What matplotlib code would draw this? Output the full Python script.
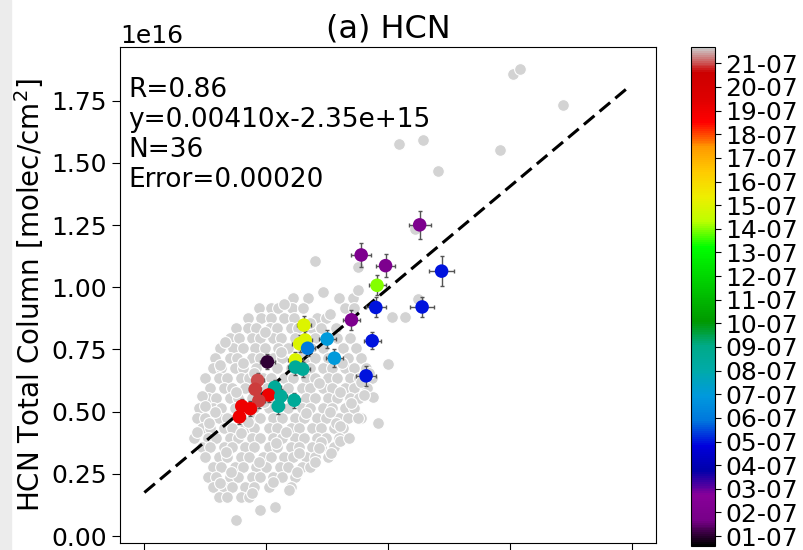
import numpy as np
import matplotlib
matplotlib.use("Agg")
import matplotlib.pyplot as plt
from matplotlib.colors import Normalize
from matplotlib.cm import ScalarMappable
from matplotlib.patches import Rectangle

# colored obs points: x in 1e18, y in 1e16, day of July
pt_x = [3.26, 2.78, 2.98, 3.44, 2.91, 2.90, 3.28, 2.70, 2.31, 2.32, 2.275,
        2.50, 2.34, 2.56, 2.87, 2.82, 2.24, 2.01, 2.24, 2.30, 1.93, 1.91,
        2.07, 2.02, 1.94, 2.12, 2.23, 2.10, 1.80, 1.87, 1.78]
pt_y = [1.251, 1.130, 1.087, 1.065, 1.008, 0.919, 0.921, 0.869, 0.848, 0.788, 0.773,
        0.792, 0.755, 0.715, 0.785, 0.644, 0.708, 0.700, 0.679, 0.671, 0.626, 0.590,
        0.598, 0.567, 0.544, 0.562, 0.546, 0.522, 0.522, 0.512, 0.479]
pt_day = [2, 2, 2, 5, 14, 5, 5, 2, 15, 15, 15,
          7, 6, 7, 5, 5, 15, 1, 8.5, 8.5, 21, 20.9,
          8.5, 19, 20.9, 8.5, 8.5, 8.5, 19, 19, 19]
pt_xerr = [0.09, 0.08, 0.08, 0.10, 0.07, 0.08, 0.10, 0.07, 0.06, 0.06, 0.06,
           0.07, 0.06, 0.07, 0.07, 0.08, 0.06, 0.06, 0.06, 0.06, 0.05, 0.05,
           0.05, 0.05, 0.05, 0.05, 0.05, 0.05, 0.05, 0.05, 0.05]
pt_yerr = [0.055, 0.05, 0.045, 0.06, 0.04, 0.04, 0.04, 0.04, 0.035, 0.035, 0.035,
           0.035, 0.03, 0.035, 0.035, 0.04, 0.03, 0.03, 0.03, 0.03, 0.03, 0.03,
           0.03, 0.03, 0.03, 0.03, 0.03, 0.03, 0.03, 0.03, 0.03]

# gray model points, read row by row (y in 1e16, x in 1e18)
gray_row_y = [0.955, 0.915, 0.878, 0.836, 0.797, 0.757, 0.716, 0.676, 0.636, 0.596,
              0.556, 0.516, 0.476, 0.436, 0.396, 0.356, 0.316, 0.276, 0.236, 0.196, 0.156]
gray_row_x = [
    [2.22, 2.34, 2.60, 2.71],
    [1.94, 2.04, 2.10, 2.21, 2.30, 2.65, 2.72],
    [1.85, 1.96, 2.04, 2.15, 2.23, 2.42, 2.49, 2.70],
    [1.75, 1.85, 1.92, 2.03, 2.09, 2.20, 2.26, 2.38, 2.45, 2.57],
    [1.70, 1.78, 1.88, 1.95, 2.06, 2.12, 2.24, 2.40, 2.58, 2.69],
    [1.62, 1.73, 1.81, 1.91, 1.99, 2.10, 2.18, 2.29, 2.37, 2.47, 2.63, 2.74],
    [1.58, 1.70, 1.76, 1.88, 1.95, 2.06, 2.13, 2.33, 2.40, 2.51, 2.67, 2.78],
    [1.56, 1.63, 1.74, 1.81, 1.92, 2.09, 2.20, 2.36, 2.47, 2.54, 2.65, 2.72, 2.82],
    [1.50, 1.61, 1.68, 1.79, 1.86, 1.97, 2.04, 2.15, 2.22, 2.33, 2.40, 2.51, 2.58, 2.69, 2.76, 2.87],
    [1.54, 1.65, 1.72, 1.83, 2.01, 2.18, 2.29, 2.36, 2.47, 2.54, 2.65, 2.72, 2.83],
    [1.52, 1.59, 1.70, 1.77, 1.88, 2.04, 2.33, 2.40, 2.51, 2.58, 2.69, 2.76],
    [1.45, 1.56, 1.63, 1.74, 1.90, 2.02, 2.18, 2.29, 2.36, 2.47, 2.54, 2.65, 2.72],
    [1.43, 1.50, 1.61, 1.68, 1.88, 1.95, 2.06, 2.13, 2.24, 2.31, 2.42, 2.49, 2.60, 2.67, 2.78],
    [1.47, 1.54, 1.65, 1.72, 1.83, 1.90, 2.02, 2.09, 2.20, 2.27, 2.38, 2.45, 2.56, 2.63],
    [1.41, 1.52, 1.59, 1.70, 1.77, 1.88, 1.95, 2.06, 2.13, 2.24, 2.31, 2.42, 2.49, 2.60],
    [1.47, 1.54, 1.65, 1.72, 1.83, 1.90, 2.02, 2.09, 2.20, 2.27, 2.38, 2.45, 2.56],
    [1.50, 1.61, 1.68, 1.79, 1.86, 1.97, 2.04, 2.15, 2.22, 2.33, 2.40, 2.51],
    [1.56, 1.63, 1.74, 1.81, 1.92, 2.00, 2.11, 2.18, 2.29, 2.36],
    [1.52, 1.59, 1.70, 1.77, 1.88, 1.95, 2.06, 2.13, 2.24],
    [1.56, 1.65, 1.72, 1.83, 1.90, 2.02, 2.20],
    [1.61, 1.68, 1.79, 1.86],
]
# extra gray points sitting between the rows
gray_mid_x = [1.66, 1.99, 2.31, 2.43, 2.61, 1.58, 1.85, 2.16, 2.45, 1.67, 1.94, 2.25,
              1.62, 1.88, 2.52, 2.70, 2.78, 2.36, 2.12, 1.75, 1.98, 2.57, 2.33, 2.08,
              1.79, 1.53, 2.62, 2.84, 2.52, 2.15, 1.81, 2.40, 1.71, 2.06, 2.27, 1.90]
gray_mid_y = [0.780, 0.820, 0.735, 0.615, 0.578, 0.498, 0.458, 0.418, 0.378, 0.338, 0.298, 0.258,
              0.214, 0.174, 0.498, 0.534, 0.618, 0.858, 0.738, 0.578, 0.538, 0.454, 0.494, 0.374,
              0.414, 0.454, 0.696, 0.656, 0.894, 0.934, 0.696, 0.296, 0.258, 0.216, 0.335, 0.656]
# scattered gray points outside the main cloud
gray_out_x = [4.03, 4.08, 4.44, 3.09, 3.29, 3.41, 3.92, 2.40, 2.47, 2.75, 2.75, 3.22,
              3.25, 3.03, 3.14, 3.00, 2.92, 2.88, 1.43, 1.47, 1.50, 1.62, 1.75, 1.95,
              2.07, 2.19, 2.53, 2.43, 2.61, 2.68, 2.75, 2.61, 2.80]
gray_out_y = [1.856, 1.878, 1.733, 1.576, 1.593, 1.468, 1.550, 1.107, 0.981, 0.988, 1.081, 1.234,
              0.954, 0.881, 0.881, 0.691, 0.455, 0.559, 0.419, 0.562, 0.522, 0.688, 0.063, 0.103,
              0.116, 0.186, 0.335, 0.355, 0.382, 0.395, 0.475, 0.442, 0.568]

slope = 0.00410
intercept = -2.35e15
fit_x = [1.0e18, 4.97e18]
day_ticks = list(range(1, 22))
day_labels = ["%02d-07" % d for d in day_ticks]

gx, gy = [], []
for yv, xs in zip(gray_row_y, gray_row_x):
    gx += xs
    gy += [yv] * len(xs)
gx = np.array(gx + gray_mid_x + gray_out_x) * 1e18
gy = np.array(gy + gray_mid_y + gray_out_y) * 1e16

fig = plt.figure(figsize=(8.04, 5.5), dpi=100)
fig.patches.append(Rectangle((0, 0), 11 / 804, 1, transform=fig.transFigure,
                             color="#ececec", zorder=-5))
ax = fig.add_axes([120 / 804, 7 / 550, 536 / 804, 496 / 550])

norm = Normalize(vmin=0.58, vmax=21.69)
cmap = plt.get_cmap("nipy_spectral")

ax.scatter(gx, gy, s=72, c="#d3d3d3", edgecolors="white", linewidths=0.8, zorder=1)

fx = np.array(fit_x)
ax.plot(fx, slope * fx + intercept, color="black", lw=2.2, ls=(0, (4.5, 2.2)), zorder=2)

px = np.array(pt_x) * 1e18
py = np.array(pt_y) * 1e16
ax.errorbar(px, py, xerr=np.array(pt_xerr) * 1e18, yerr=np.array(pt_yerr) * 1e16,
            fmt="none", ecolor="#555555", elinewidth=1, capsize=1.5, zorder=3)
ax.scatter(px, py, s=95, c=pt_day, cmap=cmap, norm=norm, edgecolors="none", zorder=4)

ax.set_xlim(0.8e18, 5.2e18)
ax.set_ylim(-0.028e16, 1.966e16)
ax.tick_params(labelsize=18, length=6)
ax.tick_params(axis="x", labelbottom=False)
ax.xaxis.get_offset_text().set_visible(False)
ax.yaxis.get_offset_text().set_fontsize(18)
ax.set_ylabel("HCN Total Column [molec/cm$^2$]", fontsize=20)
ax.set_title("(a) HCN", fontsize=23, pad=7)
ax.text(0.015, 0.94, "R=0.86\ny=0.00410x-2.35e+15\nN=36\nError=0.00020",
        transform=ax.transAxes, fontsize=19, va="top", ha="left", linespacing=1.2)

cax = fig.add_axes([691 / 804, 4 / 550, 24 / 804, 499 / 550])
cb = fig.colorbar(ScalarMappable(norm=norm, cmap=cmap), cax=cax)
cb.set_ticks(day_ticks)
cb.set_ticklabels(day_labels)
cb.ax.tick_params(labelsize=18, length=4)

fig.savefig("out.png", dpi=100)
